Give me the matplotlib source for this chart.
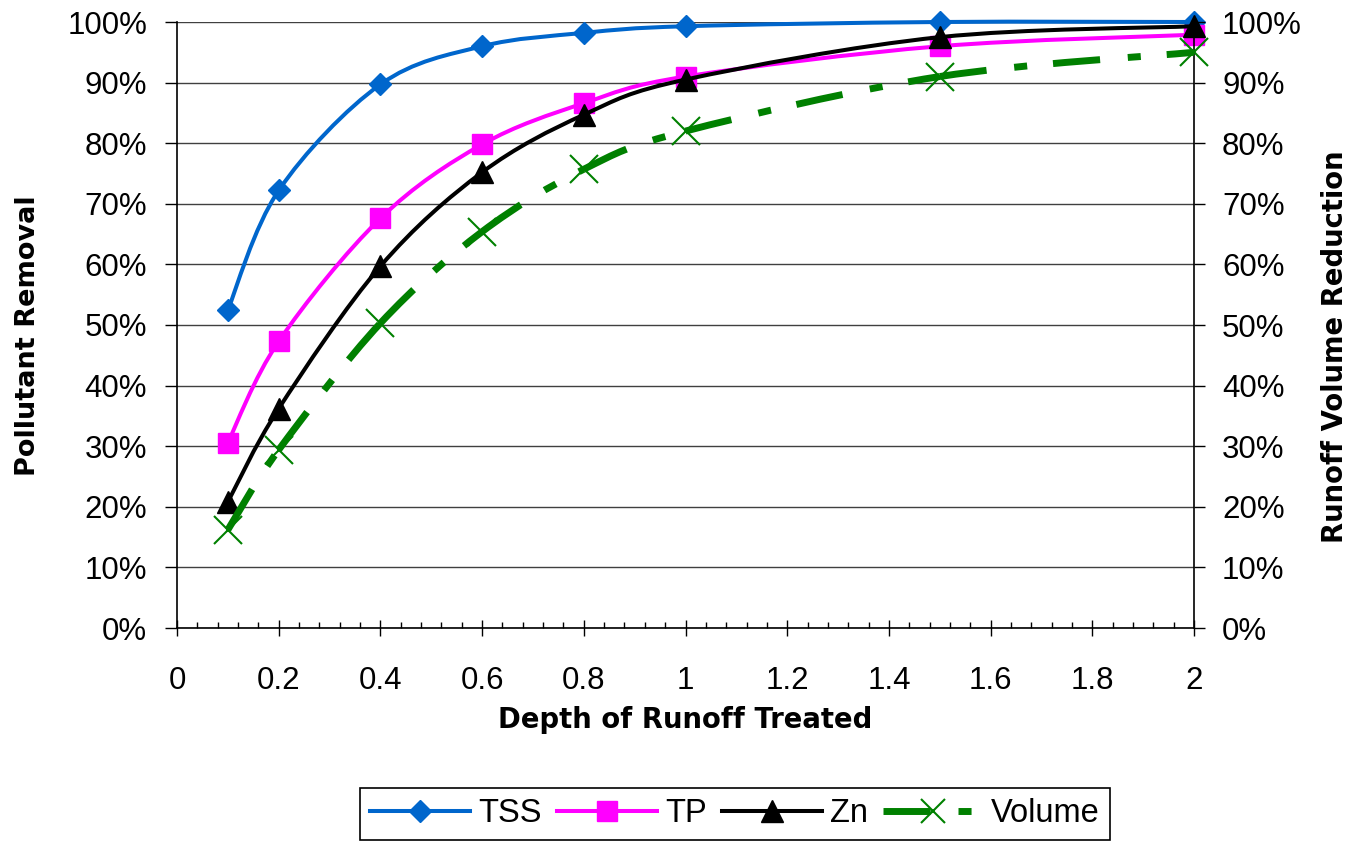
import numpy as np
import matplotlib
matplotlib.use('Agg')
import matplotlib.pyplot as plt
from matplotlib.path import Path
from matplotlib.patches import PathPatch
from matplotlib.lines import Line2D
from matplotlib.ticker import MultipleLocator, FuncFormatter

plt.rcParams['font.family'] = ['Liberation Sans', 'DejaVu Sans']
plt.rcParams['lines.scale_dashes'] = False

# data (percent)
depth = [0.1, 0.2, 0.4, 0.6, 0.8, 1.0, 1.5, 2.0]
tss = [52.5, 72.2, 89.7, 96.0, 98.2, 99.3, 100.0, 100.0]
tp = [30.6, 47.3, 67.6, 79.8, 86.6, 91.0, 96.0, 97.9]
zn = [20.8, 36.2, 59.7, 75.2, 84.7, 90.5, 97.5, 99.3]
volume = [16.2, 29.4, 50.3, 65.4, 75.7, 82.0, 91.0, 95.0]

series_names = ['TSS', 'TP', 'Zn', 'Volume']

BLUE = '#0066cc'
PINK = '#ff00ff'
BLACK = '#000000'
GREEN = '#008000'
VOL_DASH = (0, (34, 20, 9.4, 18.7))


def smooth_segments(xs, ys):
    # excel style smoothed line, one bezier per pair of points
    pts = np.column_stack([xs, ys]).astype(float)
    n = len(pts)
    segs = []
    for i in range(n - 1):
        a = pts[max(i - 1, 0)]
        b = pts[i]
        c = pts[i + 1]
        d = pts[min(i + 2, n - 1)]
        c1 = b + (c - a) / 6
        c2 = c - (d - b) / 6
        segs.append(Path([b, c1, c2, c],
                         [Path.MOVETO, Path.CURVE4, Path.CURVE4, Path.CURVE4]))
    return segs


def draw_series(ax, xs, ys, color, lw, ls, marker, ms, mew, z, cap='round'):
    for seg in smooth_segments(xs, ys):
        ax.add_patch(PathPatch(seg, fill=False, edgecolor=color, lw=lw, linestyle=ls,
                               capstyle=cap, joinstyle='round', clip_on=False, zorder=z))
    ax.plot(xs, ys, ls='none', marker=marker, ms=ms, color=color, mew=mew,
            clip_on=False, zorder=z + 0.05)


fig = plt.figure(figsize=(13.55, 8.41), dpi=100)
ax1 = fig.add_axes([177 / 1355, 1 - 628 / 841, (1194 - 177) / 1355, (628 - 22) / 841])
ax2 = ax1.twinx()

for ax in (ax1, ax2):
    ax.set_xlim(0, 2)
    ax.set_ylim(0, 100)
    ax.set_facecolor('none')
    ax.spines['top'].set_visible(False)
    ax.yaxis.set_major_locator(MultipleLocator(10))
    ax.yaxis.set_major_formatter(FuncFormatter(lambda v, p: '%d%%' % round(v)))

ax1.spines['right'].set_visible(False)
ax2.spines['left'].set_visible(False)
ax2.spines['bottom'].set_visible(False)
ax2.spines['right'].set_linewidth(1.2)
ax1.spines['left'].set_linewidth(1.2)
ax1.spines['bottom'].set_linewidth(1.2)

ax1.xaxis.set_major_locator(MultipleLocator(0.2))
ax1.xaxis.set_minor_locator(MultipleLocator(0.04))
ax1.xaxis.set_major_formatter(FuncFormatter(lambda v, p: '%g' % round(v, 2)))

ax1.tick_params(axis='x', which='major', direction='inout', length=11.5, width=1,
                pad=21.5, labelsize=22.5)
ax1.tick_params(axis='x', which='minor', direction='in', length=4.3, width=1)
ax1.tick_params(axis='y', direction='out', length=8.6, width=1, pad=13, labelsize=22.5)
ax2.tick_params(axis='y', direction='out', length=8.2, width=1, pad=12, labelsize=22.5)

ax1.yaxis.grid(True, color='#404040', lw=1)
ax1.set_axisbelow(True)

# lines + markers, pollutants on left axis, volume on right axis
draw_series(ax1, depth, tss, BLUE, 2.9, '-', 'D', 11.5, 1, 3.0)
draw_series(ax1, depth, tp, PINK, 2.9, '-', 's', 15, 1, 3.2)
draw_series(ax1, depth, zn, BLACK, 2.9, '-', '^', 15.5, 1, 3.4)
draw_series(ax2, depth, volume, GREEN, 5, VOL_DASH, 'x', 20, 1.5, 3.6, cap='butt')

# axis titles
fig.text(685 / 1355, 1 - 728 / 841, 'Depth of Runoff Treated', ha='center', va='baseline',
         fontsize=19.8, fontweight='bold', family='DejaVu Sans')
fig.text(28.5 / 1355, 1 - 336 / 841, 'Pollutant Removal', ha='center', va='center',
         rotation=90, fontsize=19.5, fontweight='bold', family='DejaVu Sans')
fig.text(1335 / 1355, 1 - 347 / 841, 'Runoff Volume Reduction', ha='center', va='center',
         rotation=90, fontsize=19.8, fontweight='bold', family='DejaVu Sans')

handles = [
    Line2D([], [], color=BLUE, lw=2.9, marker='D', ms=11.5),
    Line2D([], [], color=PINK, lw=2.9, marker='s', ms=15),
    Line2D([], [], color=BLACK, lw=2.9, marker='^', ms=15.5),
    Line2D([], [], color=GREEN, lw=5, ls=VOL_DASH, dash_capstyle='butt',
           marker='x', ms=17, mew=1.5),
]
leg = fig.legend(handles, series_names, loc='upper left',
                 bbox_to_anchor=(360 / 1355, 1 - 788 / 841), ncol=4, fontsize=23.5,
                 frameon=True, fancybox=False, edgecolor='black', framealpha=1,
                 handlelength=3.06, handletextpad=0.25, columnspacing=0.46,
                 borderpad=0.32, borderaxespad=0)
leg.get_frame().set_linewidth(1.2)

fig.savefig('out.png', dpi=100)
